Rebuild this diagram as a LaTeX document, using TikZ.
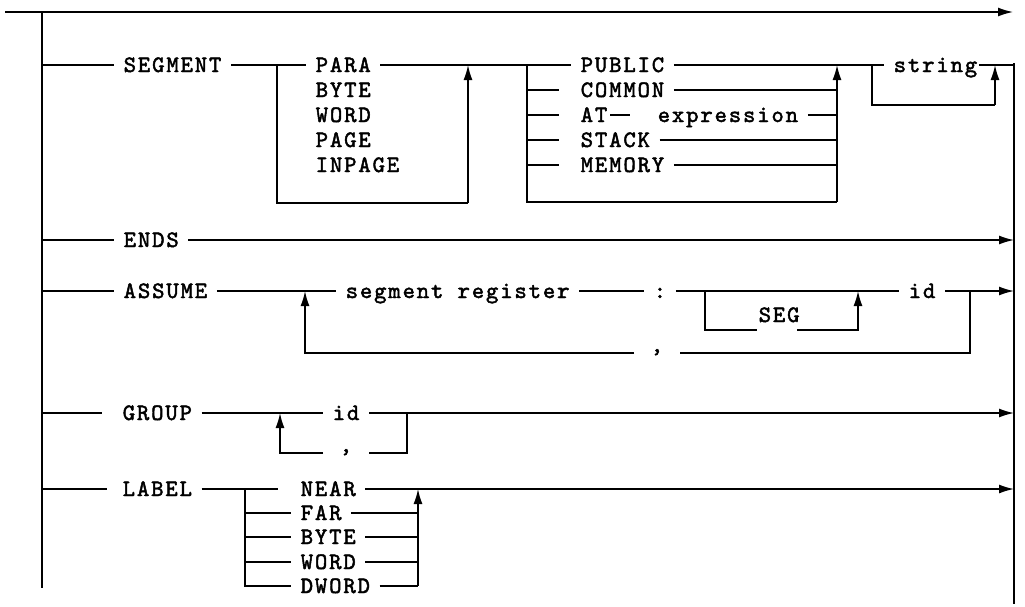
\documentclass[tikz,border=0pt]{standalone}
\usepackage{fontspec}
\newfontfamily\courfont{lmmono10-regular.otf}[LetterSpace=8,FakeBold=2]
\usetikzlibrary{arrows.meta}
\begin{document}
\begin{tikzpicture}[x=1pt,y=-1pt,
  line width=1.5pt,
  txt/.style={anchor=west, inner xsep=9pt, inner ysep=0pt, text height=14pt, text depth=0pt,
    font=\courfont\fontsize{23.5}{23.5}\selectfont},
  commanode/.style={txt, inner xsep=16pt, text height=0pt, text depth=2pt},
  arr/.style={-{Latex[length=15pt,width=9pt]}},
]
\useasboundingbox (0,0) rectangle (1025,606);

% rails
\coordinate (start) at (5,12);
\coordinate (end) at (1013,12);
\coordinate (lt) at (42,12);
\coordinate (lb) at (42,588);
\coordinate (rt) at (1014,63);
\coordinate (rb) at (1014,604);
\draw[arr] (start) -- (end);
\draw (lt) -- (lb);
\draw (rt) -- (rb);

% SEGMENT row
\node[txt] (segment) at (114,65) {SEGMENT};
\node[txt] (para) at (306,65) {PARA};
\node[txt] (byte1) at (306,90) {BYTE};
\node[txt] (word1) at (306,115) {WORD};
\node[txt] (page) at (306,140) {PAGE};
\node[txt] (inpage) at (306,165) {INPAGE};
\coordinate (a1) at (277,65);
\coordinate (a1b) at (277,203);
\coordinate (a1r) at (468,203);
\coordinate (a1t) at (468,65);
\draw (lt |- segment.west) -- (segment.west);
\draw (segment.east) -- (para.west);
\draw (a1) -- (a1b) -- (a1r);
\draw[arr] (a1r) -- (a1t);

\node[txt] (public) at (571,65) {PUBLIC};
\node[txt] (common) at (571,90) {COMMON};
\node[txt, inner xsep=2pt] (at) at (578,115) {AT};
\node[txt] (expr) at (648,115) {expression};
\node[txt] (stack) at (571,140) {STACK};
\node[txt] (memory) at (571,165) {MEMORY};
\coordinate (b1) at (527,65);
\coordinate (b1b) at (527,202);
\coordinate (b2b) at (837,202);
\coordinate (b2t) at (837,65);
\draw (para.east) -- (public.west);
\draw (b1) -- (b1b) -- (b2b);
\draw[arr] (b2b) -- (b2t);
\draw (b1 |- common.west) -- ([xshift=-12pt]common.west);
\draw (b1 |- at.west) -- ([xshift=-12pt]common.west |- at.west);
\draw (b1 |- stack.west) -- ([xshift=-12pt]stack.west);
\draw (b1 |- memory.west) -- ([xshift=-12pt]memory.west);
\draw (common.east) -- (b2t |- common.east);
\draw (at.east) -- ([xshift=-18pt]expr.west);
\draw (expr.east) -- (b2t |- expr.east);
\draw (stack.east) -- (b2t |- stack.east);
\draw (memory.east) -- (b2t |- memory.east);

\node[txt] (string) at (884,65) {string};
\coordinate (c1) at (872,65);
\coordinate (c1b) at (872,105);
\coordinate (c2b) at (995,105);
\coordinate (c2t) at (995,65);
\draw (public.east) -- (string.west);
\draw (c1) -- (c1b) -- (c2b);
\draw[arr] (c2b) -- (c2t);
\draw ([xshift=-8pt]string.east) -- (rt |- string.east);

% ENDS row
\node[txt] (ends) at (114,240) {ENDS};
\draw (lt |- ends.west) -- (ends.west);
\draw[arr] (ends.east) -- (rt |- ends.east);

% ASSUME row
\node[txt] (assume) at (114,291) {ASSUME};
\node[txt] (segreg) at (336,291) {segment register};
\node[txt] (colon) at (644,291) {:};
\node[txt] (id1) at (899,291) {id};
\node[txt] (seg) at (749,315) {SEG};
\node[commanode] (comma1) at (634,353) {,};
\coordinate (d1) at (705,291);
\coordinate (d1b) at (705,330);
\coordinate (d2b) at (858,330);
\coordinate (d2t) at (858,291);
\coordinate (e1) at (970,291);
\coordinate (e1b) at (970,353);
\coordinate (e2b) at (305,353);
\coordinate (e2t) at (305,291);
\draw (lt |- assume.west) -- (assume.west);
\draw (assume.east) -- (segreg.west);
\draw (segreg.east) -- (colon.west);
\draw (colon.east) -- (id1.west);
\draw (d1) -- (d1b) -- ([xshift=8pt]seg.west |- d1b);
\draw[arr] ([xshift=-12pt]seg.east |- d2b) -- (d2b) -- (d2t);
\draw[arr] (id1.east) -- (rt |- id1.east);
\draw (e1) -- (e1b) -- (comma1.east);
\draw[arr] (comma1.west) -- (e2b) -- (e2t);

% GROUP row
\node[txt] (group) at (113,413) {GROUP};
\node[txt] (id2) at (323,413) {id};
\node[commanode] (comma2) at (323,453) {,};
\coordinate (f1) at (407,413);
\coordinate (f1b) at (407,453);
\coordinate (f2b) at (280,453);
\coordinate (f2t) at (280,413);
\draw (lt |- group.west) -- ([xshift=-11pt]group.west);
\draw (group.east) -- (id2.west);
\draw[arr] (id2.east) -- (rt |- id2.east);
\draw (f1) -- (f1b) -- (comma2.east);
\draw[arr] (comma2.west) -- (f2b) -- (f2t);

% LABEL row
\node[txt] (label) at (113,489) {LABEL};
\node[txt] (near) at (291,489) {NEAR};
\node[txt] (far) at (291,513) {FAR};
\node[txt] (byte2) at (291,537) {BYTE};
\node[txt] (word2) at (291,562) {WORD};
\node[txt] (dword) at (291,586) {DWORD};
\coordinate (g1) at (245,489);
\coordinate (g1b) at (245,586);
\coordinate (h1) at (418,489);
\coordinate (h1b) at (418,586);
\draw (lt |- label.west) -- ([xshift=-6pt]label.west);
\draw (label.east) -- ([xshift=-13pt]near.west);
\draw (g1) -- (g1b) -- (dword.west);
\draw (g1 |- far.west) -- (far.west);
\draw (g1 |- byte2.west) -- (byte2.west);
\draw (g1 |- word2.west) -- (word2.west);
\draw (far.east) -- (h1 |- far.east);
\draw (byte2.east) -- (h1 |- byte2.east);
\draw (word2.east) -- (h1 |- word2.east);
\draw (dword.east) -- (h1b);
\draw[arr] (h1b) -- (h1);
\draw[arr] (near.east) -- (rt |- near.east);
\end{tikzpicture}
\end{document}
